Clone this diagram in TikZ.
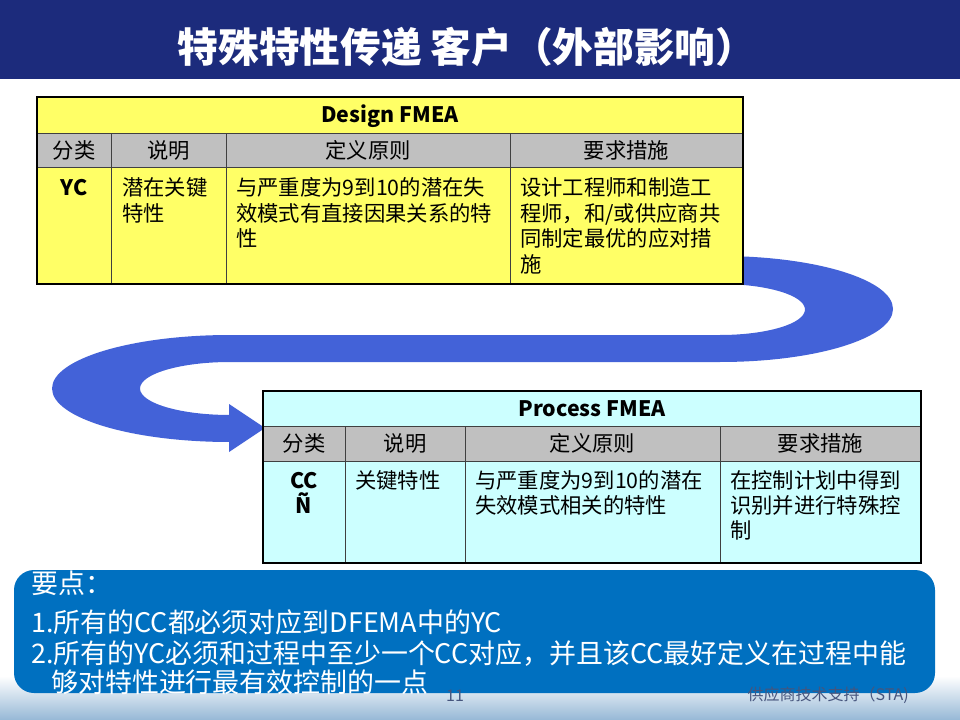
\documentclass[tikz,border=0pt]{standalone}
\usepackage{fontspec}
\setmainfont{Noto Sans CJK SC}
\definecolor{navy}{RGB}{28,43,124}
\definecolor{dyellow}{RGB}{255,255,102}
\definecolor{hgray}{RGB}{192,192,192}
\definecolor{pcyan}{RGB}{204,255,255}
\definecolor{arrowblue}{RGB}{67,98,216}
\definecolor{boxblue}{RGB}{0,112,192}
\definecolor{footblue}{RGB}{150,184,214}
\definecolor{foottext}{RGB}{70,85,125}
\newcommand\titlefont{\fontsize{30.5}{36}\selectfont\bfseries}
\newcommand\tabfont{\fontsize{16}{19.1}\selectfont}
\newcommand\keyfont{\fontsize{20.2}{24}\selectfont}
\newcommand\footfont{\fontsize{12}{14}\selectfont}
\begin{document}
\begin{tikzpicture}[x=0.75pt,y=-0.75pt,
  txt/.style={inner sep=0pt, font=\tabfont},
  hdr/.style={inner sep=0pt, font=\tabfont, anchor=base},
  ttl/.style={inner sep=0pt, font=\tabfont\bfseries, anchor=base},
  tline/.style={draw=black!75, line width=0.75pt},
  oline/.style={draw=black, line width=0.8pt},
  keytxt/.style={inner sep=0pt, font=\keyfont, text=white, anchor=base west},
  foot/.style={inner sep=0pt, font=\footfont, text=foottext}]
\useasboundingbox (0,0) rectangle (960,720);
\fill[white] (0,0) rectangle (960,720);
\shade[top color=white, bottom color=footblue] (0,676) rectangle (960,720);
% title bar
\fill[navy] (0,0) rectangle (960,79);
\node[anchor=base, inner sep=0pt, text=white, font=\titlefont] (title) at (467,63) {特殊特性传递 客户（外部影响）};
% S-shaped arrow
\fill[arrowblue] (720,256)
  .. controls (815.5,256) and (893,279.7) .. (893,309)
  .. controls (893,338.3) and (815.5,362) .. (720,362)
  -- (230,362)
  .. controls (180.3,362) and (140,373.9) .. (140,388.5)
  .. controls (140,403.1) and (180.3,415) .. (230,415)
  -- (229,415) -- (229,404) -- (265,428) -- (229,452) -- (229,442) -- (230,442)
  .. controls (131.7,442) and (52,418) .. (52,388.5)
  .. controls (52,359) and (131.7,335) .. (230,335)
  -- (720,335)
  .. controls (766.9,335) and (805,323.6) .. (805,309.5)
  .. controls (805,295.4) and (766.9,284) .. (720,284)
  -- cycle;
% Design FMEA table
\fill[dyellow] (37,97) rectangle (743,134);
\fill[hgray] (37,134) rectangle (743,168);
\fill[dyellow] (37,168) rectangle (743,284);
\draw[tline] (37,134) -- (743,134);
\draw[tline] (37,168) -- (743,168);
\draw[tline] (111,134) -- (111,284);
\draw[tline] (226,134) -- (226,284);
\draw[tline] (510,134) -- (510,284);
\draw[oline] (37,97) rectangle (743,284);
\node[ttl] (dtitle) at (390,123) {Design FMEA};
\node[hdr] (dh1) at (74,159) {分类};
\node[hdr] (dh2) at (168.5,159) {说明};
\node[hdr] (dh3) at (368,159) {定义原则};
\node[hdr] (dh4) at (626.5,159) {要求措施};
\node[ttl] (d1) at (74,196) {YC};
\node[txt, anchor=base west] (d2) at (122,196) {\parbox[t]{150pt}{\tabfont 潜在关键\\特性}};
\node[txt, anchor=base west] (d3) at (236,196) {\parbox[t]{300pt}{\tabfont 与严重度为9到10的潜在失\\效模式有直接因果关系的特\\性}};
\node[txt, anchor=base west] (d4) at (520,196) {\parbox[t]{300pt}{\tabfont 设计工程师和制造工\\程师，和/或供应商共\\同制定最优的应对措\\施}};
% Process FMEA table
\fill[pcyan] (263,391) rectangle (921,426);
\fill[hgray] (263,426) rectangle (921,461);
\fill[pcyan] (263,461) rectangle (921,563);
\draw[tline] (263,426) -- (921,426);
\draw[tline] (263,461) -- (921,461);
\draw[tline] (345,426) -- (345,563);
\draw[tline] (465,426) -- (465,563);
\draw[tline] (720,426) -- (720,563);
\draw[oline] (263,391) rectangle (921,563);
\node[ttl] (ptitle) at (592,416) {Process FMEA};
\node[hdr] (ph1) at (304,451) {分类};
\node[hdr] (ph2) at (405,451) {说明};
\node[hdr] (ph3) at (592.5,451) {定义原则};
\node[hdr] (ph4) at (820.5,451) {要求措施};
\node[txt, anchor=base] (p1) at (304,488) {\parbox[t]{50pt}{\centering\tabfont\bfseries CC\\Ñ}};
\node[txt, anchor=base west] (p2) at (355,488) {\parbox[t]{150pt}{\tabfont 关键特性}};
\node[txt, anchor=base west] (p3) at (475,488) {\parbox[t]{300pt}{\tabfont 与严重度为9到10的潜在\\失效模式相关的特性}};
\node[txt, anchor=base west] (p4) at (730,488) {\parbox[t]{300pt}{\tabfont 在控制计划中得到\\识别并进行特殊控\\制}};
% key points box
\fill[boxblue, rounded corners=15pt] (14,570) rectangle (935,693);
\node[keytxt] (k1) at (31,593) {要点：};
\node[keytxt] (k2) at (31,632) {1.所有的CC都必须对应到DFEMA中的YC};
\node[keytxt] (k3) at (31,663) {2.所有的YC必须和过程中至少一个CC对应，并且该CC最好定义在过程中能};
\node[keytxt] (k4) at (51,692) {够对特性进行最有效控制的一点};
% footer
\node[foot, anchor=base] (pagenum) at (455,701) {11};
\node[foot, anchor=base east] (footr) at (909,700) {供应商技术支持（STA)};
\end{tikzpicture}
\end{document}
